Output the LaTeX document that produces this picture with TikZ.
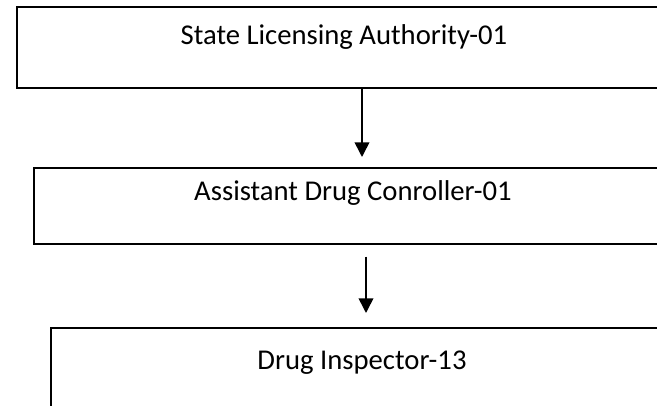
\documentclass[tikz,border=0pt]{standalone}
\usepackage{fontspec}
\setmainfont{Carlito}
\usetikzlibrary{arrows.meta}
\begin{document}
\begin{tikzpicture}[x=0.75pt,y=-0.75pt,>={Triangle[length=11pt,width=11pt]},
  orgbox/.style={draw,line width=1.3pt,anchor=north west,inner sep=0pt},
  orgtext/.style={anchor=base,font=\fontsize{21.5}{26}\selectfont}]
\useasboundingbox (0,0) rectangle (657,406);
\clip (0,0) rectangle (657,406);
\node[orgbox,minimum width=513pt,minimum height=60.75pt] (sla) at (16,6) {};
\node[orgtext] (slatext) at (344,45) {State Licensing Authority-01};
\node[orgbox,minimum width=500.25pt,minimum height=57pt] (adc) at (33,167) {};
\node[orgtext] (adctext) at (353,201) {Assistant Drug Conroller-01};
\node[orgbox,minimum width=487.5pt,minimum height=75pt] (di) at (50,327) {};
\node[orgtext] (ditext) at (362,369) {Drug Inspector-13};
% arrows between levels
\coordinate (tip1) at (362,157);
\coordinate (tip2) at (366,313);
\draw[->,line width=1.2pt] (tip1 |- sla.south) -- (tip1);
\draw[->,line width=1.2pt] (tip2 |- adc.south) ++(0,12) -- (tip2);
\end{tikzpicture}
\end{document}
